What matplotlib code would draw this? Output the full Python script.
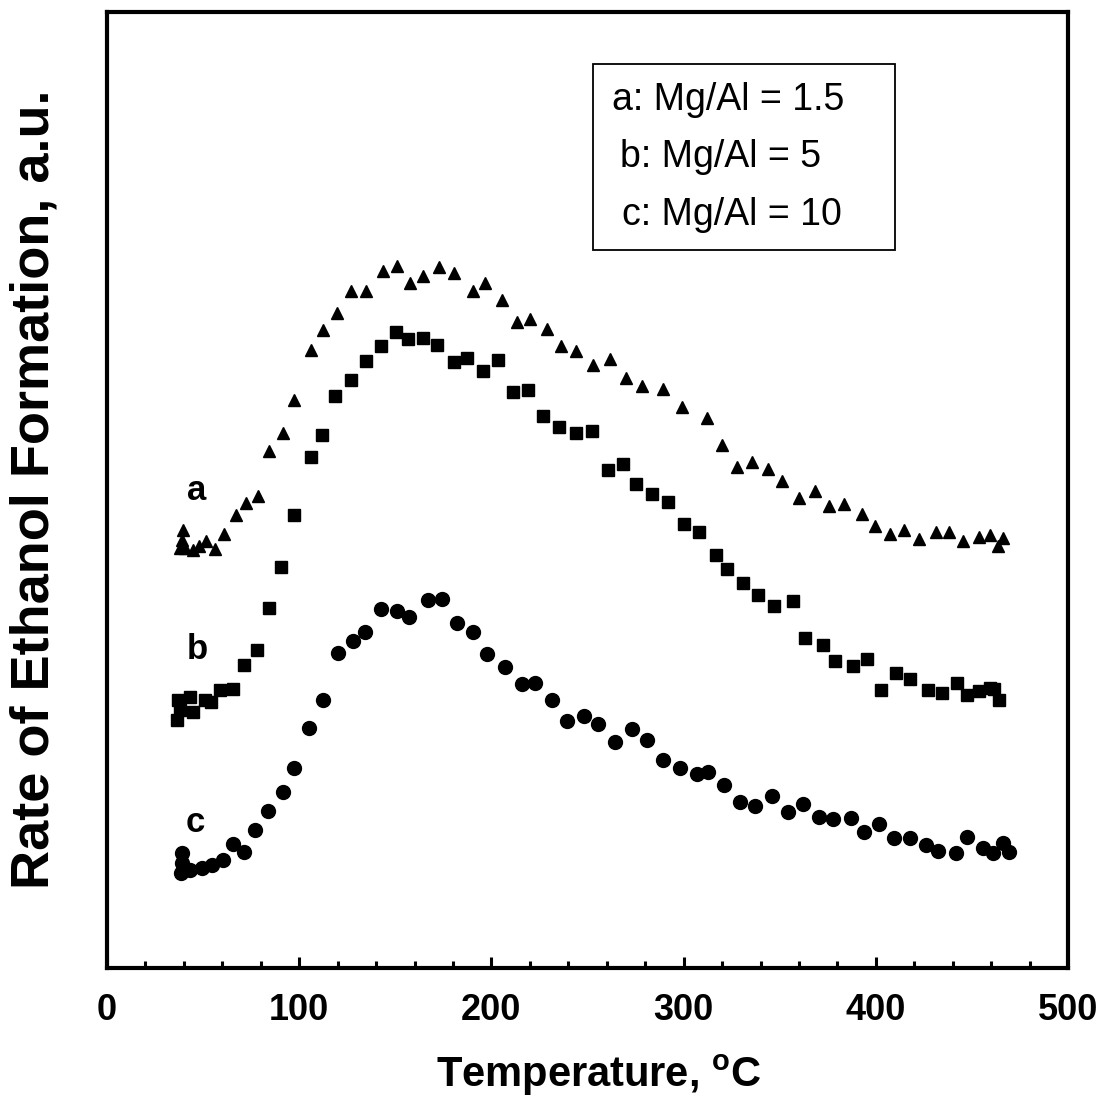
import matplotlib
matplotlib.use("Agg")
import matplotlib.pyplot as plt
from matplotlib.patches import Rectangle
from matplotlib.ticker import MultipleLocator

plt.rcParams['font.family'] = ['Liberation Sans', 'DejaVu Sans']
plt.rcParams['mathtext.fontset'] = 'custom'
plt.rcParams['mathtext.rm'] = 'Liberation Sans:bold'
plt.rcParams['mathtext.bf'] = 'Liberation Sans:bold'

# Series a: Mg/Al = 1.5 (triangles)
temp_a = [39.7, 38.9, 38.0, 40.6, 44.9, 48.0, 51.5, 56.2, 61.0, 67.1, 72.2, 78.3,
          84.4, 91.7, 97.3, 106.0, 112.5, 119.8, 126.8, 134.8, 143.8, 150.7, 157.6,
          164.6, 172.6, 180.5, 190.6, 196.7, 205.4, 213.2, 220.1, 228.7, 236.1, 244.0,
          252.7, 261.7, 269.9, 278.5, 289.4, 299.3, 312.3, 319.8, 327.6, 335.4, 344.1,
          351.4, 360.2, 368.4, 375.7, 383.5, 392.7, 399.6, 407.4, 414.7, 422.6, 431.2,
          438.2, 445.2, 453.9, 459.4, 463.7, 466.3]
rate_a = [45.8, 44.8, 43.9, 43.9, 43.7, 44.1, 44.7, 43.8, 45.4, 47.4, 48.6, 49.4,
          54.1, 56.0, 59.4, 64.7, 66.7, 68.5, 70.8, 70.8, 72.9, 73.4, 71.7,
          72.4, 73.3, 72.7, 70.8, 71.7, 69.9, 67.6, 67.9, 66.8, 65.1, 64.6,
          63.1, 63.7, 61.7, 60.9, 60.6, 58.7, 57.5, 54.7, 52.4, 52.9, 52.2,
          51.0, 49.2, 49.9, 48.3, 48.5, 47.5, 46.2, 45.4, 45.8, 44.9, 45.6,
          45.6, 44.7, 45.1, 45.3, 44.2, 45.0]

# Series b: Mg/Al = 5 (squares)
temp_b = [37.1, 38.0, 36.6, 43.2, 44.9, 51.0, 54.0, 58.8, 65.7, 71.4, 77.9, 84.4,
          90.4, 97.3, 106.0, 111.7, 118.6, 126.8, 134.8, 142.6, 150.4, 156.5, 164.6,
          171.5, 180.5, 187.5, 195.5, 203.3, 211.1, 218.9, 227.0, 235.2, 244.0, 252.2,
          260.5, 268.6, 275.2, 283.4, 292.0, 300.2, 308.0, 316.7, 322.6, 331.1, 338.9,
          347.0, 357.1, 363.2, 372.4, 379.0, 388.3, 395.6, 402.7, 410.5, 417.8, 427.0,
          434.3, 442.4, 447.6, 453.8, 459.4, 461.5, 464.1]
rate_b = [28.0, 27.0, 25.9, 28.4, 26.8, 28.0, 27.8, 29.1, 29.2, 31.7, 33.3, 37.7,
          42.0, 47.4, 53.5, 55.8, 59.8, 61.5, 63.5, 65.1, 66.5, 65.8, 65.9,
          65.2, 63.4, 63.8, 62.5, 63.6, 60.3, 60.5, 57.7, 56.6, 56.0, 56.2,
          52.1, 52.7, 50.6, 49.6, 48.8, 46.5, 45.6, 43.2, 41.7, 40.3, 39.0,
          37.9, 38.4, 34.5, 33.8, 32.1, 31.6, 32.3, 29.1, 30.9, 30.2, 29.1,
          28.8, 29.8, 28.6, 29.0, 29.3, 29.2, 28.0]

# Series c: Mg/Al = 10 (circles)
temp_c = [38.9, 38.9, 38.3, 43.2, 49.3, 54.5, 60.2, 65.4, 71.3, 77.2, 83.9, 91.7,
          97.3, 105.3, 112.2, 120.3, 128.1, 134.2, 142.4, 151.0, 157.1, 167.2, 174.5,
          182.3, 190.6, 197.9, 207.1, 215.8, 222.7, 231.4, 239.5, 248.2, 255.5, 264.3,
          273.0, 281.1, 289.1, 298.1, 306.8, 312.9, 321.2, 329.3, 337.1, 346.2, 354.2,
          362.3, 370.4, 377.9, 386.9, 393.8, 401.8, 409.6, 417.8, 426.1, 432.2, 441.6,
          447.6, 455.9, 461.1, 466.3, 469.3]
rate_c = [12.0, 11.0, 9.9, 10.3, 10.5, 10.8, 11.3, 13.0, 12.1, 14.4, 16.4, 18.4,
          20.9, 25.1, 28.0, 33.0, 34.2, 35.2, 37.6, 37.3, 36.7, 38.5, 38.6,
          36.1, 35.2, 32.8, 31.5, 29.7, 29.8, 28.0, 25.8, 26.4, 25.5, 23.6,
          25.0, 23.9, 21.8, 20.9, 20.3, 20.5, 19.1, 17.4, 16.9, 18.0, 16.3,
          17.2, 15.8, 15.6, 15.7, 14.2, 15.1, 13.6, 13.6, 12.9, 12.2, 12.0,
          13.7, 12.6, 12.0, 13.1, 12.1]

curve_labels = ['a', 'b', 'c']
label_pos_t = [46.8, 46.8, 45.8]
label_pos_r = [50.0, 33.3, 15.2]
legend_lines = ['a: Mg/Al = 1.5', 'b: Mg/Al = 5', 'c: Mg/Al = 10']

fig = plt.figure(figsize=(11.1, 11.05), dpi=100)
ax = fig.add_axes([0.0964, 0.124, 0.8658, 0.865])

ax.plot(temp_a, rate_a, linestyle='none', marker='^', color='black', markersize=9)
ax.plot(temp_b, rate_b, linestyle='none', marker='s', color='black', markersize=8)
ax.plot(temp_c, rate_c, linestyle='none', marker='o', color='black', markersize=10)

for lab, t, r in zip(curve_labels, label_pos_t, label_pos_r):
    ax.text(t, r, lab, fontsize=25, fontweight='bold', ha='center', va='center')

ax.set_xlim(0, 500)
ax.set_ylim(0, 100)
ax.xaxis.set_major_locator(MultipleLocator(100))
ax.xaxis.set_minor_locator(MultipleLocator(20))
ax.set_yticks([])
ax.tick_params(axis='x', which='major', direction='in', length=8, width=2.2,
               labelsize=26, pad=18)
ax.tick_params(axis='x', which='minor', direction='in', length=5, width=2.2)
for lbl in ax.get_xticklabels():
    lbl.set_fontweight('bold')
for sp in ax.spines.values():
    sp.set_linewidth(3)

# legend box
ax.add_patch(Rectangle((0.506, 0.751), 0.314, 0.195, transform=ax.transAxes,
                       fill=False, edgecolor='black', linewidth=1.3))
leg_x = [0.5255, 0.534, 0.536]
leg_y = [0.908, 0.848, 0.788]
for txt, lx, ly in zip(legend_lines, leg_x, leg_y):
    ax.text(lx, ly, txt, transform=ax.transAxes, fontsize=27, ha='left', va='center')

fig.text(0.539, 0.027, r'Temperature, $^{\mathrm{o}}$C', fontsize=30,
         fontweight='bold', ha='center', va='center')
fig.text(0.0315, 0.557, 'Rate of Ethanol Formation, a.u.', fontsize=39,
         fontweight='bold', ha='center', va='center', rotation=90)

fig.savefig('out.png', dpi=100)
